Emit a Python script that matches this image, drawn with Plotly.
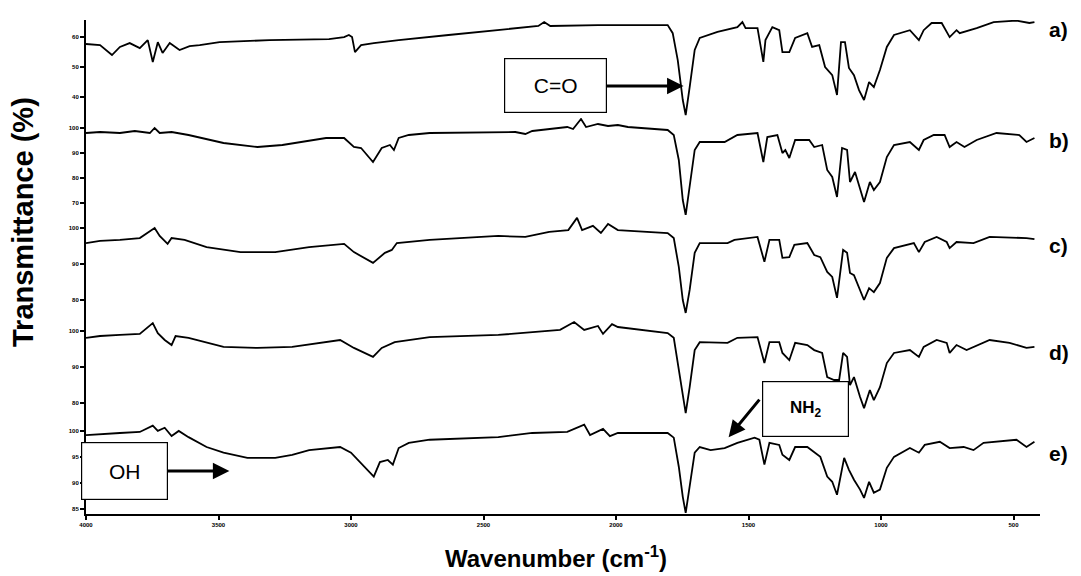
import plotly.graph_objects as go

# ---------------- data (wavenumber cm-1, transmittance %) ----------------
WN_A = [4000, 3947, 3902, 3872, 3835, 3797, 3767, 3748, 3729, 3711, 3684, 3647, 3609, 3571, 3496, 3308, 3083, 3026, 3008, 2996,
        2985, 2962, 2914, 2820, 2632, 2444, 2293, 2271, 2248, 2068, 1880, 1805, 1786, 1767, 1748, 1737, 1722, 1703, 1684, 1617,
        1542, 1523, 1511, 1466, 1444, 1436, 1410, 1384, 1372, 1346, 1324, 1278, 1260, 1233, 1211, 1184, 1166, 1151, 1136, 1121,
        1102, 1083, 1064, 1045, 1027, 1004, 978, 951, 891, 857, 839, 809, 771, 741, 715, 703, 639, 575, 489, 440, 421]
T_A = [57.7, 57.3, 54.0, 56.7, 58.0, 56.3, 59.0, 51.7, 58.3, 54.7, 58.0, 55.7, 57.0, 57.3, 58.3, 59.0, 59.3, 60.0, 60.7, 60.0,
       55.0, 57.3, 58.0, 59.0, 60.7, 62.3, 63.7, 65.0, 63.7, 64.0, 64.0, 64.0, 61.3, 52.3, 39.0, 34.0, 43.3, 55.7, 59.7, 61.7,
       63.3, 65.0, 63.0, 63.0, 51.7, 59.0, 63.3, 62.3, 55.0, 55.0, 59.7, 61.3, 56.7, 57.3, 50.0, 47.3, 40.7, 58.3, 58.3, 49.7,
       47.3, 42.3, 39.0, 45.0, 43.3, 49.0, 56.7, 60.7, 62.3, 59.0, 62.3, 64.7, 64.7, 60.0, 62.3, 61.3, 63.0, 65.0, 65.5, 64.7, 65.0]

WN_B = [4000, 3947, 3872, 3816, 3759, 3741, 3722, 3677, 3613, 3481, 3353, 3259, 3094, 3026, 2989, 2962, 2917, 2884, 2853, 2838,
        2820, 2782, 2703, 2380, 2342, 2316, 2184, 2162, 2132, 2113, 2068, 2030, 1993, 1955, 1805, 1782, 1763, 1748, 1737, 1722,
        1703, 1684, 1590, 1542, 1466, 1444, 1429, 1391, 1372, 1361, 1346, 1324, 1271, 1252, 1222, 1203, 1184, 1166, 1147, 1128,
        1117, 1098, 1079, 1064, 1042, 1027, 1004, 978, 951, 891, 857, 839, 801, 760, 741, 715, 685, 639, 564, 478, 451, 421]
T_B = [98.0, 98.4, 98.0, 98.8, 98.0, 100.0, 98.0, 98.4, 97.2, 94.0, 92.4, 93.2, 96.0, 96.0, 92.4, 92.0, 86.4, 92.0, 93.2, 91.2,
       96.0, 97.2, 98.0, 98.4, 97.6, 98.8, 100.4, 99.6, 103.6, 100.4, 101.6, 100.8, 101.2, 100.4, 99.2, 97.2, 87.2, 71.2, 65.2, 76.4,
       91.2, 94.4, 94.4, 97.2, 98.0, 86.4, 96.4, 97.2, 90.0, 91.2, 88.0, 95.2, 95.2, 92.4, 93.2, 83.2, 80.4, 72.4, 92.0, 91.2,
       78.4, 82.4, 76.0, 70.4, 78.4, 75.2, 78.4, 88.4, 93.2, 94.4, 91.2, 95.2, 97.2, 97.2, 92.4, 94.4, 92.4, 95.2, 98.0, 97.2, 94.4, 96.0]

WN_C = [4000, 3947, 3872, 3797, 3741, 3722, 3692, 3677, 3628, 3545, 3417, 3286, 3158, 3026, 2989, 2917, 2872, 2846, 2827, 2703,
        2444, 2342, 2252, 2180, 2147, 2128, 2087, 2057, 2030, 1993, 1805, 1782, 1763, 1748, 1737, 1722, 1703, 1684, 1579, 1553,
        1466, 1440, 1421, 1384, 1372, 1346, 1327, 1278, 1252, 1229, 1203, 1184, 1166, 1143, 1128, 1117, 1102, 1079, 1064, 1045,
        1027, 1004, 978, 951, 876, 857, 835, 790, 752, 741, 715, 651, 590, 451, 421]
T_C = [95.8, 96.4, 96.7, 97.2, 100.0, 97.8, 95.6, 97.2, 96.7, 94.7, 93.3, 93.3, 94.7, 95.6, 93.3, 90.3, 93.1, 93.9, 95.8, 96.7,
       97.8, 97.5, 98.9, 99.4, 102.8, 99.4, 100.6, 98.6, 101.1, 99.4, 98.6, 97.2, 89.2, 80.0, 76.4, 82.8, 93.1, 95.8, 95.8, 96.7,
       97.5, 90.6, 96.7, 96.7, 91.7, 91.9, 95.3, 95.8, 92.5, 91.9, 87.8, 86.4, 80.6, 93.9, 93.1, 87.5, 86.9, 82.8, 80.0, 83.3,
       82.2, 84.7, 91.7, 94.4, 95.8, 93.3, 96.1, 97.5, 96.1, 94.4, 96.1, 95.8, 97.5, 97.2, 96.9]

WN_D = [4000, 3947, 3872, 3797, 3748, 3729, 3703, 3677, 3662, 3613, 3481, 3353, 3222, 3041, 2989, 2917, 2884, 2835, 2703, 2444,
        2211, 2158, 2120, 2068, 2049, 2015, 1993, 1805, 1782, 1763, 1748, 1737, 1722, 1703, 1684, 1579, 1542, 1466, 1440, 1421,
        1384, 1372, 1346, 1324, 1278, 1252, 1222, 1203, 1177, 1158, 1143, 1128, 1117, 1102, 1079, 1064, 1042, 1027, 1004, 978,
        951, 891, 857, 839, 790, 752, 741, 715, 677, 590, 515, 451, 421]
T_D = [98.1, 98.6, 98.9, 99.2, 102.2, 99.4, 97.5, 96.1, 98.6, 98.1, 95.6, 95.3, 95.6, 97.5, 95.3, 92.8, 95.3, 96.9, 98.3, 98.9,
       100.3, 102.5, 100.3, 101.4, 99.2, 101.9, 101.1, 99.4, 98.1, 89.2, 81.4, 77.2, 84.4, 94.7, 96.9, 96.7, 98.1, 98.3, 91.1, 96.9,
       96.9, 93.9, 91.9, 96.7, 96.1, 94.7, 93.9, 87.2, 86.4, 86.4, 93.9, 92.8, 85.0, 87.2, 81.7, 78.6, 83.6, 80.8, 84.4, 91.1,
       93.9, 94.7, 92.8, 95.6, 97.5, 96.7, 93.9, 96.1, 94.7, 97.5, 96.7, 95.3, 95.6]

WN_E = [4000, 3947, 3872, 3797, 3748, 3729, 3703, 3677, 3650, 3613, 3545, 3481, 3391, 3286, 3222, 3158, 3041, 3000, 2962, 2914,
        2891, 2861, 2842, 2820, 2782, 2703, 2444, 2316, 2184, 2120, 2098, 2049, 2023, 1993, 1805, 1782, 1763, 1748, 1737, 1722,
        1703, 1684, 1643, 1590, 1542, 1477, 1459, 1440, 1421, 1384, 1372, 1346, 1324, 1278, 1252, 1229, 1203, 1184, 1166, 1139,
        1121, 1102, 1079, 1064, 1045, 1027, 1004, 978, 951, 891, 857, 835, 778, 741, 688, 651, 613, 489, 451, 421]
T_E = [99.2, 99.4, 99.6, 99.8, 101.0, 100.0, 100.6, 99.0, 100.0, 98.8, 96.9, 95.8, 94.8, 94.8, 95.4, 96.3, 96.9, 95.8, 93.8, 91.2,
       94.0, 94.4, 93.5, 96.7, 97.7, 98.3, 98.8, 99.6, 99.8, 101.2, 99.2, 100.4, 99.0, 99.6, 99.6, 98.7, 93.1, 87.3, 84.2, 89.2,
       95.8, 96.9, 96.3, 96.7, 97.7, 98.7, 98.3, 93.5, 97.7, 97.3, 95.4, 94.4, 96.9, 96.9, 95.8, 95.0, 91.2, 90.2, 87.7, 94.8,
       92.5, 90.6, 88.7, 87.1, 90.2, 88.1, 88.7, 92.9, 95.0, 96.7, 95.8, 97.3, 97.9, 96.7, 96.9, 96.3, 97.7, 98.3, 96.9, 97.9]

SERIES_LABELS = ["a)", "b)", "c)", "d)", "e)"]
X_TICKS = [4000, 3500, 3000, 2500, 2000, 1500, 1000, 500]
Y_TICKS_A = [40, 50, 60]
Y_TICKS_B = [70, 80, 90, 100]
Y_TICKS_C = [80, 90, 100]
Y_TICKS_D = [80, 90, 100]
Y_TICKS_E = [85, 90, 95, 100]

# ---------------- figure ----------------
W, H = 1081, 576
ML, MR, MT, MB = 86, 41, 20, 62
PW, PH = W - ML - MR, H - MT - MB

def yp(pix):
    return (H - MB - pix) / PH

def xp(pix):
    return (pix - ML) / PW

series = [
    ("y5", WN_A, T_A),
    ("y4", WN_B, T_B),
    ("y3", WN_C, T_C),
    ("y2", WN_D, T_D),
    ("y", WN_E, T_E),
]

fig = go.Figure()
for ax, wn, t in series:
    fig.add_trace(go.Scatter(x=wn, y=t, yaxis=ax, xaxis="x", mode="lines",
                             line=dict(color="black", width=1.8), showlegend=False,
                             hoverinfo="skip"))

tickfont = dict(family="Liberation Sans", size=6, color="black", weight="bold")
yax_common = dict(showline=True, linecolor="black", linewidth=2, ticks="outside",
                  ticklen=4, tickwidth=1.5, tickcolor="black", showgrid=False,
                  zeroline=False, tickfont=tickfont, anchor="x", fixedrange=True)

fig.update_layout(
    width=W, height=H,
    margin=dict(l=ML, r=MR, t=MT, b=MB),
    plot_bgcolor="white", paper_bgcolor="white",
    xaxis=dict(range=[4000, 400], tickvals=X_TICKS, showline=True, linecolor="black",
               linewidth=2, ticks="outside", ticklen=4, tickwidth=1.5, tickcolor="black",
               showgrid=False, zeroline=False, tickfont=tickfont, anchor="y"),
    yaxis=dict(domain=[0, yp(420)], range=[84.0, 102.1], tickvals=Y_TICKS_E, **yax_common),
    yaxis2=dict(domain=[yp(420), yp(318)], range=[75.3, 103.6], tickvals=Y_TICKS_D, **yax_common),
    yaxis3=dict(domain=[yp(318), yp(215)], range=[75.0, 103.6], tickvals=Y_TICKS_C, **yax_common),
    yaxis4=dict(domain=[yp(215), yp(118)], range=[65.2, 104.0], tickvals=Y_TICKS_B, **yax_common),
    yaxis5=dict(domain=[yp(118), 1.0], range=[33.0, 65.7], tickvals=Y_TICKS_A, **yax_common),
)

ann = []
# series labels on the right
for lab, ypix in zip(SERIES_LABELS, [30, 140, 245, 352, 453]):
    ann.append(dict(text=lab, xref="paper", yref="paper", x=xp(1047), y=yp(ypix),
                    xanchor="left", yanchor="middle", showarrow=False,
                    font=dict(family="Liberation Sans", size=21, color="black", weight="bold")))

# axis titles
ann.append(dict(text="Transmittance (%)", xref="paper", yref="paper",
                x=xp(23), y=yp(222), textangle=-90, showarrow=False,
                xanchor="center", yanchor="middle",
                font=dict(family="Liberation Sans", size=29, color="black", weight="bold")))
ann.append(dict(text="Wavenumber (cm<sup>-1</sup>)", xref="paper", yref="paper",
                x=xp(556), y=yp(557), showarrow=False,
                xanchor="center", yanchor="middle",
                font=dict(family="Liberation Sans", size=24, color="black", weight="bold")))

# labelled boxes with arrows (tip in data coordinates, box offset in pixels)
box_font = dict(family="Liberation Sans", size=21, color="black")
arrow = dict(showarrow=True, arrowhead=2, arrowsize=1.1, arrowwidth=3, arrowcolor="black",
             bordercolor="black", borderwidth=1.2, bgcolor="white",
             xanchor="center", yanchor="middle")
ann.append(dict(text="C=O", x=1745, y=43.7, xref="x", yref="y5", ax=-128.5, ay=0,
                width=99, height=51, font=box_font, **arrow))
ann.append(dict(text="OH", x=3459, y=92.3, xref="x", yref="y", ax=-104.5, ay=0,
                width=83, height=54, font=box_font, **arrow))
# NH2 box (no arrow) plus its own diagonal arrow starting at the box's left edge
ann.append(dict(text="<b>NH<sub>2</sub></b>", xref="paper", yref="paper", x=xp(805.5), y=yp(409),
                width=83, height=52, showarrow=False, bordercolor="black", borderwidth=1.2,
                bgcolor="white", font=dict(family="Liberation Sans", size=17, color="black"),
                xanchor="center", yanchor="middle"))
ann.append(dict(text="", x=1575, y=98.8, xref="x", yref="y", ax=32, ay=-39,
                showarrow=True, arrowhead=2, arrowsize=1.1, arrowwidth=3, arrowcolor="black"))

fig.update_layout(annotations=ann)
fig.write_html("out.html")
